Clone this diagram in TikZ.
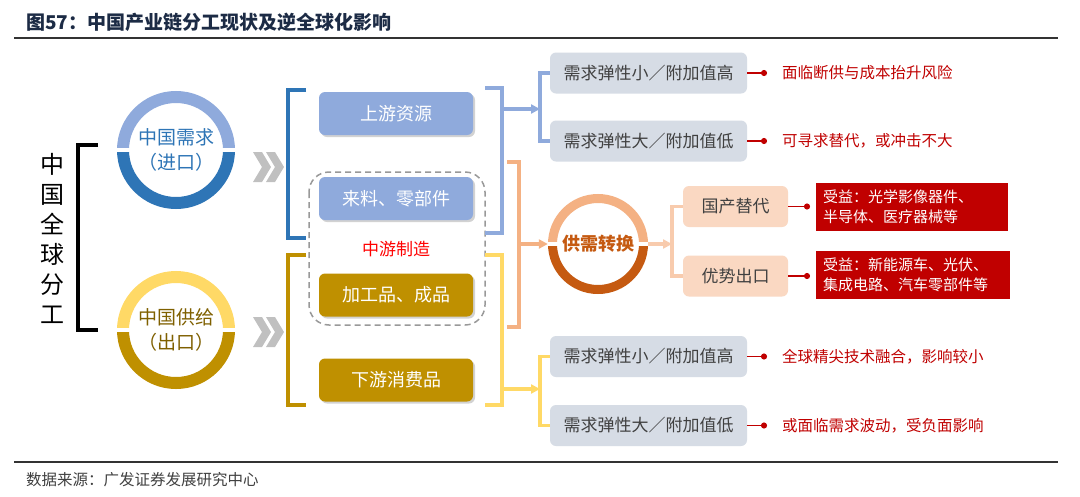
\documentclass[tikz,border=0pt]{standalone}
\usepackage{fontspec}
\setmainfont{Noto Sans CJK SC}
\usetikzlibrary{positioning}
\usetikzlibrary{arrows.meta}
\usetikzlibrary{shadows}
\definecolor{navy}{HTML}{1C2B45}
\definecolor{bluel}{HTML}{8FAADC}
\definecolor{blued}{HTML}{2E75B6}
\definecolor{goldl}{HTML}{FFD966}
\definecolor{goldd}{HTML}{BF9000}
\definecolor{goldt}{HTML}{7F6000}
\definecolor{orangel}{HTML}{F4B183}
\definecolor{orangep}{HTML}{F8CBAD}
\definecolor{oranged}{HTML}{C55A11}
\definecolor{peach}{HTML}{FAD8C2}
\definecolor{grayb}{HTML}{D6DCE5}
\definecolor{darkt}{HTML}{404040}
\definecolor{redd}{HTML}{C00000}
\definecolor{chevgray}{HTML}{C0C0C0}
\tikzset{
    ttl/.style = {anchor=west, inner sep=0, text=navy, font=\fontsize{19}{22}\selectfont\bfseries},
    srcnote/.style = {anchor=west, inner sep=0, text=darkt, font=\fontsize{15.5}{18}\selectfont},
    rule/.style = {line width=1.4pt, draw=black!80},
    vtext/.style = {align=center, inner sep=0, font=\fontsize{24}{30}\selectfont},
    ringtxt/.style = {circle, inner sep=0, align=center, font=\fontsize{19}{25}\selectfont},
    bbox/.style = {rectangle, rounded corners=6pt, fill=bluel, text=white, minimum width=154pt, minimum height=43pt,
                   font=\fontsize{18}{20}\selectfont, drop shadow={shadow xshift=2pt,shadow yshift=-2pt,opacity=.35}},
    gbox/.style = {bbox, fill=goldd},
    dbox/.style = {rectangle, rounded corners=6pt, fill=grayb, text=darkt, minimum width=197pt, minimum height=41pt,
                   font=\fontsize{17}{20}\selectfont},
    pbox/.style = {dbox, fill=peach, minimum width=105pt},
    rbox/.style = {rectangle, fill=redd, text=white, align=left, inner sep=7pt, minimum height=48pt,
                   font=\fontsize{15}{20}\selectfont},
    redtxt/.style = {anchor=west, inner sep=0, text=redd, font=\fontsize{15.5}{18}\selectfont},
    midtxt/.style = {inner sep=0, text=red, font=\fontsize{17}{20}\selectfont},
    brk/.style = {line width=3.2pt},
    tip/.style = {-{Triangle[length=9pt,width=9pt]}},
    redln/.style = {line width=1.8pt, draw=redd, -{Circle[length=6pt]}},
    midbox/.style = {dashed, dash pattern=on 6pt off 4pt, line width=1.5pt, draw=black!40, rounded corners=20pt}
}
% ring round a circle node: name, mid radius, width, top colour, bottom colour
\newcommand{\ring}[5]{%
  \begin{scope}
    \clip ([shift={(-80,-2.5)}]#1.center) rectangle ([shift={(80,-80)}]#1.center);
    \draw[#4,line width=#3pt] (#1.center) circle[radius=#2pt];
  \end{scope}
  \begin{scope}
    \clip ([shift={(-80,2.5)}]#1.center) rectangle ([shift={(80,80)}]#1.center);
    \draw[#5,line width=#3pt] (#1.center) circle[radius=#2pt];
  \end{scope}}
% double chevron
\newcommand{\chev}[2]{%
  \foreach \dx in {0,13}{
    \fill[chevgray] (#1+\dx,#2) -- ++(9,0) -- ++(9,15) -- ++(-9,15) -- ++(-9,0) -- ++(9,-15) -- cycle;}}

\begin{document}
\begin{tikzpicture}[x=1pt,y=-1pt]
\useasboundingbox[fill=white] (0,0) rectangle (1080,496);
% title, rules, source
\node[ttl] at (26,22) (ttl) {图57：中国产业链分工现状及逆全球化影响};
\draw[rule] (14,38) -- (1058,38);
\draw[rule] (14,462) -- (1058,462);
\node[srcnote] at (26,480) (src) {数据来源：广发证券发展研究中心};
%
\node[vtext] at (52,238) (fen) {中\\国\\全\\球\\分\\工};
\draw[brk,black] (98,145) -| (78,330) -- (98,330);
%
\node[ringtxt, text=blued, minimum size=118pt] at (176,150) (dem) {中国需求\\（进口）};
\node[ringtxt, text=goldt, minimum size=118pt] at (176,330) (sup) {中国供给\\（出口）};
\ring{dem}{53}{12}{bluel}{blued}
\ring{sup}{53}{12}{goldl}{goldd}
\chev{253}{152}
\chev{253}{317}
%
\draw[brk,blued] (306,90) -| (288,238) -- (306,238);
\draw[brk,goldd] (306,255) -| (288,405) -- (306,405);
\node[bbox] at (396,113.5) (up) {上游资源};
\node[bbox] at (396,198.5) (parts) {来料、零部件};
\node[gbox] at (396,295) (proc) {加工品、成品};
\node[gbox] at (396,380) (down) {下游消费品};
\draw[midbox] (309,172) rectangle (485,325);
\node[midtxt] at (396,249) (midl) {中游制造};
%
\node[dbox] at (648.5,73) (d1) {需求弹性小／附加值高};
\node[dbox] at (648.5,141) (d2) {需求弹性大／附加值低};
\node[dbox] at (648.5,356.5) (d3) {需求弹性小／附加值高};
\node[dbox] at (648.5,425.5) (d4) {需求弹性大／附加值低};
\node[ringtxt, text=oranged, minimum size=100pt, font=\fontsize{18}{20}\selectfont\bfseries] at (598,244) (conv) {供需转换};
\ring{conv}{45.5}{9}{orangel}{oranged}
\node[pbox] at (735.5,206.5) (s1) {国产替代};
\node[pbox] at (735.5,276) (s2) {优势出口};
\node[rbox, text width=178pt] at (912,207) (r1) {受益：光学影像器件、\\半导体、医疗器械等};
\node[rbox, text width=180pt, minimum height=46pt] at (913,275) (r2) {受益：新能源车、光伏、\\集成电路、汽车零部件等};
%
\coordinate (ua) at (502,109);
\coordinate (uj) at (540,109);
\draw[brk,bluel] (485,88) -| (502,233) -- (485,233);
\draw[brk,bluel,tip] (ua) -- (uj);
\draw[brk,bluel] (d1.west) -| (uj) |- (d2.west);
\coordinate (da) at (502,389);
\coordinate (dj) at (540,389);
\draw[brk,goldl] (485,255) -| (502,405) -- (485,405);
\draw[brk,goldl,tip] (da) -- (dj);
\draw[brk,goldl] (d3.west) -| (dj) |- (d4.west);
\coordinate (ca) at (519,244);
\coordinate (cj) at (672,244);
\draw[brk,orangel] (507,162) -| (519,327) -- (507,327);
\draw[brk,orangel,tip] (ca) -- (conv.west);
\draw[brk,orangep,tip] (conv.east) -- (cj);
\draw[brk,orangep] (s1.west) -| (cj) |- (s2.west);
%
\coordinate (p1) at (767,73);
\coordinate (p2) at (767,141);
\coordinate (p3) at (767,356.5);
\coordinate (p4) at (767,425.5);
\coordinate (p5) at (810,206.5);
\coordinate (p6) at (810,276);
\draw[redln] (d1) -- (p1);
\draw[redln] (d2) -- (p2);
\draw[redln] (d3) -- (p3);
\draw[redln] (d4) -- (p4);
\draw[redln] (s1) -- (p5);
\draw[redln] (s2) -- (p6);
\node[redtxt] at (782,73) (t1) {面临断供与成本抬升风险};
\node[redtxt] at (782,141) (t2) {可寻求替代，或冲击不大};
\node[redtxt] at (782,356.5) (t3) {全球精尖技术融合，影响较小};
\node[redtxt] at (782,425.5) (t4) {或面临需求波动，受负面影响};
\end{tikzpicture}
\end{document}
